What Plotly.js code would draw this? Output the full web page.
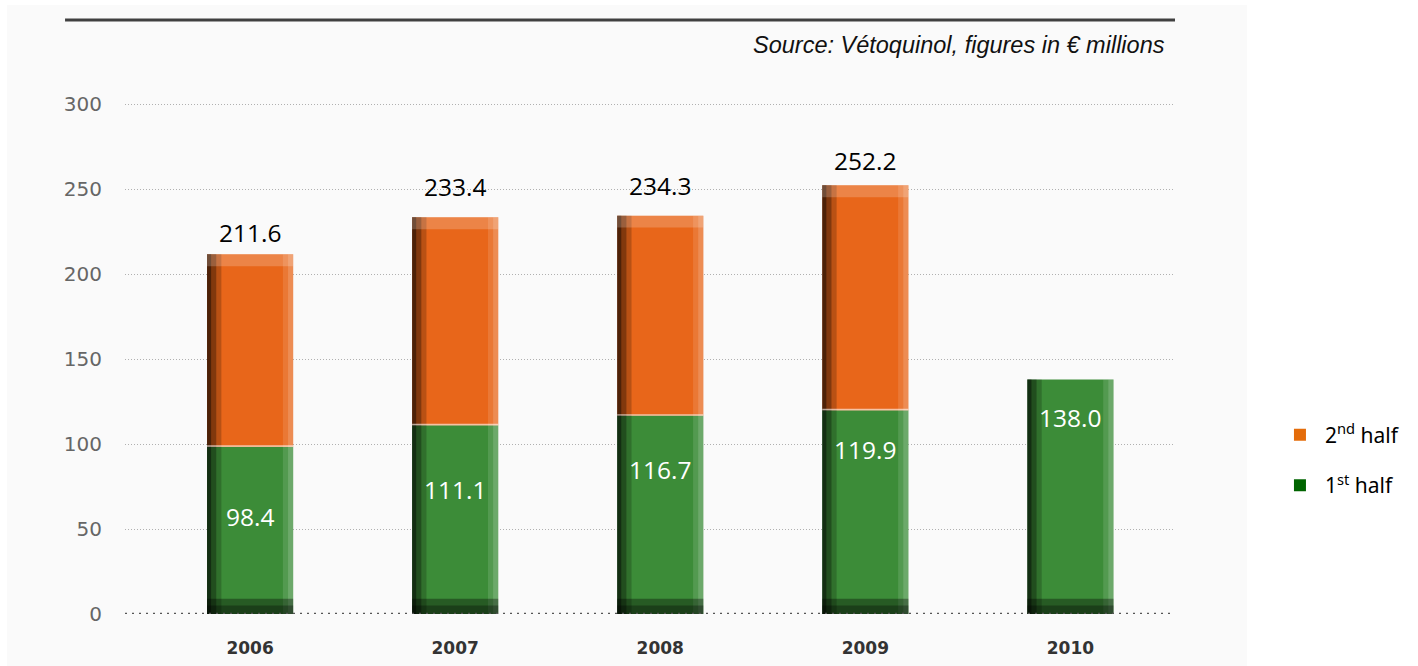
<!DOCTYPE html>
<html>
<head>
<meta charset="utf-8">
<script src="https://cdn.plot.ly/plotly-3.0.1.min.js"></script>
<style>html,body{margin:0;padding:0;background:#fff;}#chart{width:1418px;height:666px;}</style>
</head>
<body>
<div id="chart"></div>
<script>
// ---- data ----
var years = ['2006', '2007', '2008', '2009', '2010'];
var firstHalf = [98.4, 111.1, 116.7, 119.9, 138.0];
var secondHalf = [113.2, 122.3, 117.6, 132.3];
var totals = [211.6, 233.4, 234.3, 252.2];
var yTicks = [0, 50, 100, 150, 200, 250, 300];

// ---- style ----
var ORANGE = '#E8661A', GREEN = '#3C8C38';
var LEG_ORANGE = '#E46C0A', LEG_GREEN = '#006400';
var BW = 0.42;
var insideShift = [-70, -64, -54, -39, -38];
var totalShift = [22, 31, 30, 25];
var LABEL_FONT = 'Open Sans, Noto Sans, sans-serif';

var years4 = years.slice(0, secondHalf.length);
var fullH = years.map(function (y, i) { return i < totals.length ? totals[i] : firstHalf[i]; });

function shade(yv, base, w, off, col) {
  return {type: 'bar', x: years, y: yv, base: base, width: w, offset: off,
    marker: {color: col, line: {width: 0}}, hoverinfo: 'skip', showlegend: false};
}

var traces = [
  {type: 'bar', x: years, y: firstHalf, base: 0, width: BW, name: '1<sup>st</sup> half',
   marker: {color: GREEN, line: {width: 0}}, hoverinfo: 'skip', showlegend: false},
  {type: 'bar', x: years4, y: secondHalf, base: firstHalf.slice(0, secondHalf.length), width: BW, name: '2<sup>nd</sup> half',
   marker: {color: ORANGE, line: {width: 0}}, hoverinfo: 'skip', showlegend: false},
  // 3D-like shading
  shade(fullH, 0, 0.07, -BW / 2, 'rgba(0,0,0,0.2)'),
  shade(fullH, 0, 0.045, -BW / 2, 'rgba(0,0,0,0.3)'),
  shade(fullH, 0, 0.02, -BW / 2, 'rgba(0,0,0,0.4)'),
  shade(fullH, 0, 0.05, BW / 2 - 0.05, 'rgba(255,255,255,0.12)'),
  shade(fullH, 0, 0.025, BW / 2 - 0.025, 'rgba(255,255,255,0.15)'),
  shade(years.map(function () { return 9; }), 0, BW, -BW / 2, 'rgba(0,0,0,0.35)'),
  shade(years.map(function () { return 5; }), 0, BW, -BW / 2, 'rgba(0,0,0,0.3)'),
  {type: 'bar', x: years4, y: totals.map(function () { return 7; }), base: totals.map(function (t) { return t - 7; }),
   width: BW, marker: {color: 'rgba(255,255,255,0.2)', line: {width: 0}}, hoverinfo: 'skip', showlegend: false},
  {type: 'bar', x: years4, y: totals.map(function () { return 0.8; }), base: firstHalf.slice(0, secondHalf.length),
   width: BW, marker: {color: 'rgba(255,255,255,0.6)', line: {width: 0}}, hoverinfo: 'skip', showlegend: false},
  // legend entries
  {type: 'bar', x: [years[0]], y: [0], name: '2<sup>nd</sup> half', marker: {color: LEG_ORANGE},
   legendgroup: 'a', hoverinfo: 'skip', showlegend: true},
  {type: 'bar', x: [years[0]], y: [0], name: '1<sup>st</sup> half', marker: {color: LEG_GREEN},
   legendgroup: 'b', hoverinfo: 'skip', showlegend: true}
];

var annotations = [];
years.forEach(function (yr, i) {
  annotations.push({x: i, y: firstHalf[i], xref: 'x', yref: 'y', text: firstHalf[i].toFixed(1),
    showarrow: false, yanchor: 'middle', yshift: insideShift[i],
    font: {family: LABEL_FONT, size: 24.5, color: '#ffffff'}});
});
totals.forEach(function (t, i) {
  annotations.push({x: i, y: t, xref: 'x', yref: 'y', text: t.toFixed(1),
    showarrow: false, yanchor: 'middle', yshift: totalShift[i],
    font: {family: LABEL_FONT, size: 24.5, color: '#000000'}});
});
annotations.push({x: 0.9924, y: 1.1135, xref: 'paper', yref: 'paper', xanchor: 'right', yanchor: 'middle',
  text: '<i>Source: Vétoquinol, figures in € millions</i>', showarrow: false,
  font: {family: 'Liberation Sans, Arial, sans-serif', size: 23.5, color: '#111111'}});

var layout = {
  width: 1418, height: 666,
  margin: {l: 125, r: 243, t: 103, b: 52},
  paper_bgcolor: '#ffffff', plot_bgcolor: 'rgba(0,0,0,0)',
  barmode: 'overlay',
  xaxis: {type: 'category', range: [-0.61, 4.51], showgrid: false, zeroline: false, showline: false,
    ticks: '', ticklabelstandoff: 22,
    tickfont: {family: 'DejaVu Sans, sans-serif', size: 17, color: '#333333', weight: 'bold'}},
  yaxis: {range: [0, 300.6], tickvals: yTicks, showgrid: true, gridcolor: '#b0b0b0', griddash: '1px,2px', gridwidth: 1,
    zeroline: false, showline: false, ticks: '', ticklabelstandoff: 22,
    tickfont: {family: 'DejaVu Sans, sans-serif', size: 20, color: '#666666'}},
  legend: {x: 1.0952, y: 0.39, xanchor: 'left', yanchor: 'top', traceorder: 'grouped', tracegroupgap: 20,
    itemwidth: 40,
    font: {family: 'Noto Sans, Open Sans, sans-serif', size: 21, color: '#000000'}, bgcolor: 'rgba(0,0,0,0)'},
  annotations: annotations,
  shapes: [
    {type: 'rect', xref: 'paper', yref: 'paper', x0: -0.1124, x1: 1.0686, y0: -0.12, y1: 1.1918,
      fillcolor: '#fafafa', line: {width: 0}, layer: 'below'},
    {type: 'line', xref: 'paper', yref: 'paper', x0: -0.0571, x1: 1.0, y0: 1.1624, y1: 1.1624,
      line: {color: '#404040', width: 3}},
    {type: 'line', xref: 'paper', yref: 'y', x0: 0, x1: 1, y0: 0, y1: 0,
      line: {color: '#555555', width: 2.5, dash: '2px,5px'}, layer: 'above'}
  ],
  showlegend: true
};

Plotly.newPlot('chart', traces, layout, {displayModeBar: false, staticPlot: true});
</script>
</body>
</html>
